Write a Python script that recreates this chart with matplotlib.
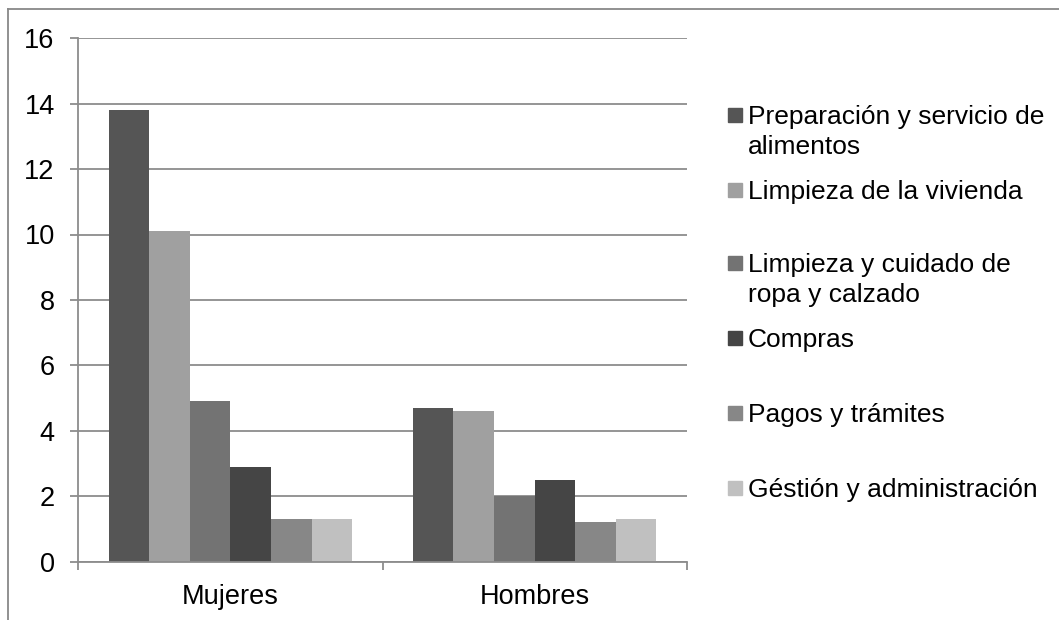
import matplotlib
matplotlib.use("Agg")
import matplotlib.pyplot as plt
from matplotlib.patches import Rectangle
from matplotlib.lines import Line2D
import numpy as np

plt.rcParams['font.family'] = ['Liberation Sans', 'DejaVu Sans']

categories = ["Mujeres", "Hombres"]
series_names = [
    "Preparación y servicio de\nalimentos",
    "Limpieza de la vivienda",
    "Limpieza y cuidado de\nropa y calzado",
    "Compras",
    "Pagos y trámites",
    "Géstión y administración",
]
values = [
    [13.8, 4.7],
    [10.1, 4.6],
    [4.9, 2.0],
    [2.9, 2.5],
    [1.3, 1.2],
    [1.3, 1.3],
]
colors = ["#555555", "#a0a0a0", "#737373", "#454545", "#878787", "#c0c0c0"]
yticks = [0, 2, 4, 6, 8, 10, 12, 14, 16]

W, H = 1059, 620
fig = plt.figure(figsize=(W / 100, H / 100), dpi=100)
ax_l, ax_r, ax_t, ax_b = 78.3, 686.7, 38.3, 561.5
ax = fig.add_axes([ax_l / W, 1 - ax_b / H, (ax_r - ax_l) / W, (ax_b - ax_t) / H])

grid_c = "#8c8c8c"
n = len(values)
group_w = 0.8
bw = group_w / n
x = np.arange(len(categories))
for i, (vals, c) in enumerate(zip(values, colors)):
    ax.bar(x - group_w / 2 + bw * (i + 0.5), vals, width=bw, color=c, zorder=3)

ax.set_xlim(-0.5, len(categories) - 0.5)
ax.set_ylim(0, 16)
ax.set_yticks(yticks)
ax.set_yticklabels([str(v) for v in yticks], fontsize=19.5)
ax.set_xticks(x)
ax.set_xticklabels(categories, fontsize=19.5)
ax.set_xticks(np.arange(-0.5, len(categories), 1.0), minor=True)
ax.tick_params(axis='x', which='major', length=0, pad=16)
ax.tick_params(axis='x', which='minor', length=5.5, width=1.3, color=grid_c, direction='out')
ax.tick_params(axis='y', length=6, width=1.3, color=grid_c, pad=11, direction='out')
ax.yaxis.grid(True, color=grid_c, linewidth=1.3, zorder=0)
ax.set_axisbelow(True)
for s in ['top', 'right']:
    ax.spines[s].set_visible(False)
for s in ['left', 'bottom']:
    ax.spines[s].set_color(grid_c)
    ax.spines[s].set_linewidth(1.3)
    ax.spines[s].set_zorder(4)

# legend drawn manually
leg_y = [115, 190, 263, 338, 413, 488]
line_h = 30
for name, c, yy in zip(series_names, colors, leg_y):
    fig.patches.append(Rectangle((728 / W, 1 - (yy + 7) / H), 14 / W, 14 / H,
                                 transform=fig.transFigure, color=c))
    for k, line in enumerate(name.split("\n")):
        fig.text(748 / W, 1 - (yy + 9 + k * line_h) / H, line, fontsize=19,
                 va='baseline', ha='left')

# outer frame (top and left)
fig.add_artist(Line2D([8 / W, 1], [1 - 9 / H, 1 - 9 / H], color="#888888", linewidth=1.3,
                      transform=fig.transFigure))
fig.add_artist(Line2D([8 / W, 8 / W], [0, 1 - 9 / H], color="#888888", linewidth=1.3,
                      transform=fig.transFigure))

fig.savefig("out.png", dpi=100)
